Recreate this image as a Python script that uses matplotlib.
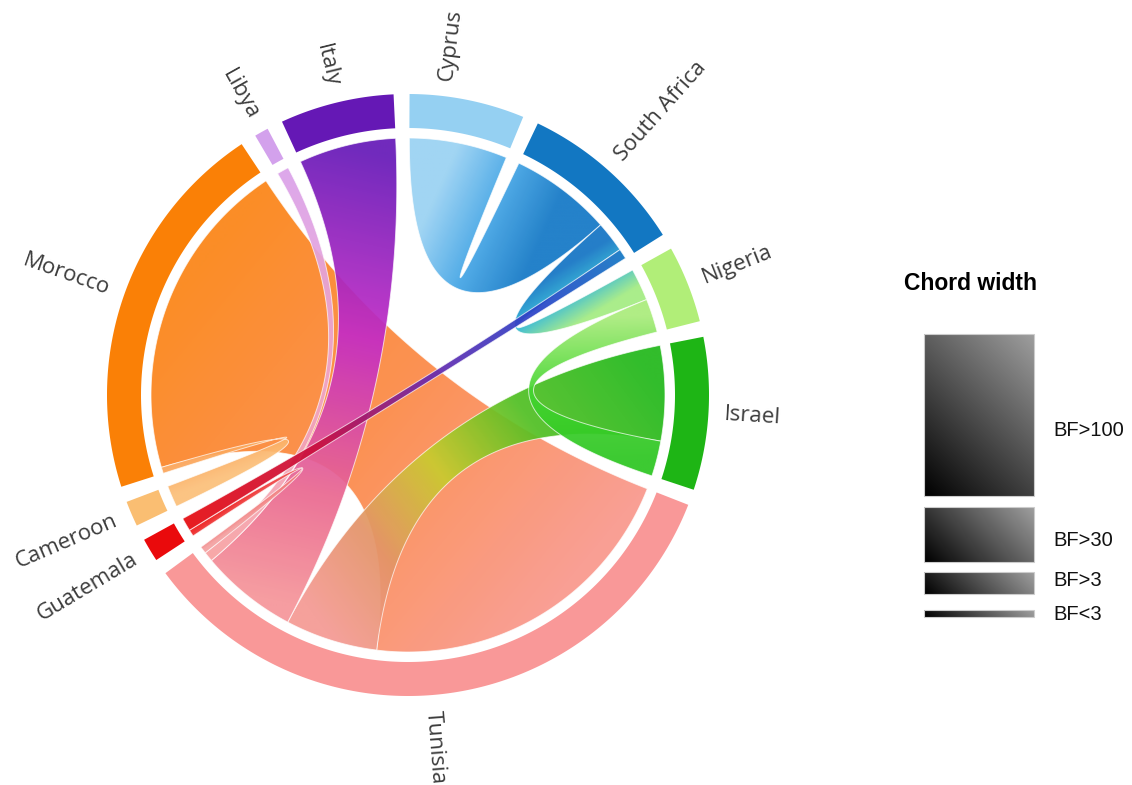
import numpy as np
import matplotlib.pyplot as plt
from matplotlib.patches import Polygon
from matplotlib.colors import LinearSegmentedColormap

# sectors, clockwise from the top
sectors = ['Cyprus', 'South Africa', 'Nigeria', 'Israel', 'Tunisia',
           'Guatemala', 'Cameroon', 'Morocco', 'Libya', 'Italy']
sector_colors = ['#95d0f2', '#1277c2', '#b1ee78', '#1eb515', '#f99898',
                 '#ea0a0c', '#fabe72', '#fa8006', '#d3a1ec', '#6518b5']

# links: sector at each end and the chord width at that end
link_a = ['Morocco', 'Israel', 'Cyprus', 'South Africa', 'Nigeria', 'Cameroon',
          'Italy', 'Libya', 'Guatemala', 'Guatemala']
link_b = ['Tunisia', 'Tunisia', 'South Africa', 'Nigeria', 'Israel', 'Morocco',
          'Tunisia', 'Tunisia', 'Tunisia', 'South Africa']
value_a = [72.8, 21.5, 22.2, 7.0, 7.6, 4.9, 22.0, 2.7, 1.5, 3.0]
value_b = [75.6, 20.9, 23.0, 7.3, 8.0, 1.4, 22.0, 2.2, 1.6, 2.3]

# clockwise order of the partners inside each sector
partner_order = {
    'Cyprus': ['South Africa'],
    'South Africa': ['Cyprus', 'Nigeria', 'Guatemala'],
    'Nigeria': ['South Africa', 'Israel'],
    'Israel': ['Tunisia', 'Nigeria'],
    'Tunisia': ['Morocco', 'Israel', 'Italy', 'Libya', 'Guatemala'],
    'Guatemala': ['Tunisia', 'South Africa'],
    'Cameroon': ['Morocco'],
    'Morocco': ['Cameroon', 'Tunisia'],
    'Libya': ['Tunisia'],
    'Italy': ['Tunisia'],
}

# gradient colours of each chord, from end a to end b
chord_stops = [
    [(0, '#fb8416'), (0.5, '#fc8a48'), (1, '#f9988c')],
    [(0, '#22b81c'), (0.3, '#52c024'), (0.55, '#c9cb2f'), (0.78, '#e49468'), (1, '#f59a94')],
    [(0, '#9ad2f3'), (0.5, '#45a6e6'), (1, '#1479c6')],
    [(0, '#1474c4'), (0.5, '#2cb6d6'), (1, '#a4ec82')],
    [(0, '#aaec7c'), (0.5, '#44d630'), (1, '#2ec622')],
    [(0, '#fbc07a'), (1, '#fba458')],
    [(0, '#661ab8'), (0.4, '#c42cc6'), (0.75, '#ea6890'), (1, '#f6969a')],
    [(0, '#dba2ea'), (0.5, '#f0a6cc'), (1, '#f8a2a2')],
    [(0, '#ee2020'), (1, '#f4a0a0')],
    [(0, '#e60c10'), (0.3, '#c81040'), (0.55, '#6a2aae'), (0.8, '#2a44c8'), (1, '#1478c4')],
]

# small angular nudges of two labels, as in the original
label_shift = {'Cyprus': -4.5, 'Tunisia': 3.0}

legend_labels = ['BF>100', 'BF>30', 'BF>3', 'BF<3']

W, H = 1132, 785
CX, CY = 408, 395
R_OUT, R_RING, R_CHORD, R_LABEL = 301, 267, 257, 317
START = 0.3


def pt(theta, r):
    t = np.radians(np.atleast_1d(theta))
    return np.column_stack([CX + r * np.sin(t), CY - r * np.cos(t)])


def arc(a0, a1, r):
    n = max(6, int(abs(a1 - a0) * 3))
    return pt(np.linspace(a0, a1, n), r)


def bez(p0, p2, n=80):
    t = np.linspace(0, 1, n)[:, None]
    c = np.array([CX, CY])
    return (1 - t) ** 2 * p0 + 2 * t * (1 - t) * c + t ** 2 * p2


# layout of sectors and chord ends
total = sum(value_a) + sum(value_b)
gap = (360 - total) / len(sectors)
sector_span = {}
end_span = {}
cur = START
for s in sectors:
    s0 = cur
    for p in partner_order[s]:
        for i in range(len(link_a)):
            if link_a[i] == s and link_b[i] == p:
                w = value_a[i]; key = (i, 'a')
            elif link_b[i] == s and link_a[i] == p:
                w = value_b[i]; key = (i, 'b')
            else:
                continue
            end_span[key] = (cur, cur + w)
            cur += w
    sector_span[s] = (s0, cur)
    cur += gap

fig = plt.figure(figsize=(W / 100, H / 100), dpi=100)
ax = fig.add_axes([0, 0, 1, 1])
ax.axis('off')

# outer ring
for s, col in zip(sectors, sector_colors):
    s0, s1 = sector_span[s]
    poly = np.vstack([arc(s0, s1, R_OUT), arc(s1, s0, R_RING)])
    ax.add_patch(Polygon(poly, closed=True, facecolor=col, edgecolor='none', zorder=5))
    m = (s0 + s1) / 2 + label_shift.get(s, 0)
    x, y = pt(m, R_LABEL)[0]
    if m < 180:
        rot, ha = 90 - m, 'left'
    else:
        rot, ha = 270 - m, 'right'
    ax.text(x, y, s, rotation=rot, rotation_mode='anchor', ha=ha, va='center',
            fontsize=16, family='Open Sans', color='#3c3c3c')

# chords with colour gradients
for i in range(len(link_a)):
    a1, a2 = end_span[(i, 'a')]
    b1, b2 = end_span[(i, 'b')]
    pa2 = pt(a2, R_CHORD)[0]
    pb1 = pt(b1, R_CHORD)[0]
    pb2 = pt(b2, R_CHORD)[0]
    pa1 = pt(a1, R_CHORD)[0]
    poly = np.vstack([arc(a1, a2, R_CHORD), bez(pa2, pb1), arc(b1, b2, R_CHORD), bez(pb2, pa1)])
    z = 2 + i * 0.1
    patch = Polygon(poly, closed=True, facecolor='none', edgecolor='white',
                    lw=0.7, alpha=0.7, zorder=z + 0.05)
    ax.add_patch(patch)
    ma = pt((a1 + a2) / 2, R_CHORD)[0]
    mb = pt((b1 + b2) / 2, R_CHORD)[0]
    x0, y0 = poly.min(0)
    x1, y1 = poly.max(0)
    xs = np.linspace(x0, x1, int(x1 - x0) + 2)
    ys = np.linspace(y0, y1, int(y1 - y0) + 2)
    X, Y = np.meshgrid(xs, ys)
    d = mb - ma
    t = np.clip(((X - ma[0]) * d[0] + (Y - ma[1]) * d[1]) / (d @ d), 0, 1)
    cmap = LinearSegmentedColormap.from_list('c%d' % i, chord_stops[i])
    img = cmap(t)
    img[..., 3] = 0.93
    im = ax.imshow(img, extent=(x0, x1, y0, y1), origin='lower', aspect='auto',
                   interpolation='bilinear', zorder=z)
    im.set_clip_path(patch)

# legend
ax.text(970, 283, 'Chord width', ha='center', va='center', fontsize=16.5,
        fontweight='bold', family='Liberation Sans', color='black')
box_top = [334, 507, 572, 610]
box_h = [162, 55, 22, 7]
label_y = [430, 540, 580, 614]
bx0, bw = 924, 110
for lab, top, h, ly in zip(legend_labels, box_top, box_h, label_y):
    xs = np.linspace(0, bw, 120)
    ys = np.linspace(0, h, max(h, 2))
    X, Y = np.meshgrid(xs, ys)
    g = 0.62 * (X + (h - Y)) / (bw + h)
    img = np.dstack([g, g, g])
    ax.imshow(img, extent=(bx0, bx0 + bw, top, top + h), origin='lower',
              aspect='auto', interpolation='bilinear', zorder=3)
    ax.add_patch(Polygon([[bx0, top], [bx0 + bw, top], [bx0 + bw, top + h], [bx0, top + h]],
                         closed=True, facecolor='none', edgecolor='#cccccc', lw=0.8, zorder=4))
    ax.text(1053, ly, lab, ha='left', va='center',
            fontsize=14.5, family='Liberation Sans', color='#111111')

ax.set_xlim(0, W)
ax.set_ylim(H, 0)
fig.savefig('out.png', dpi=100)
